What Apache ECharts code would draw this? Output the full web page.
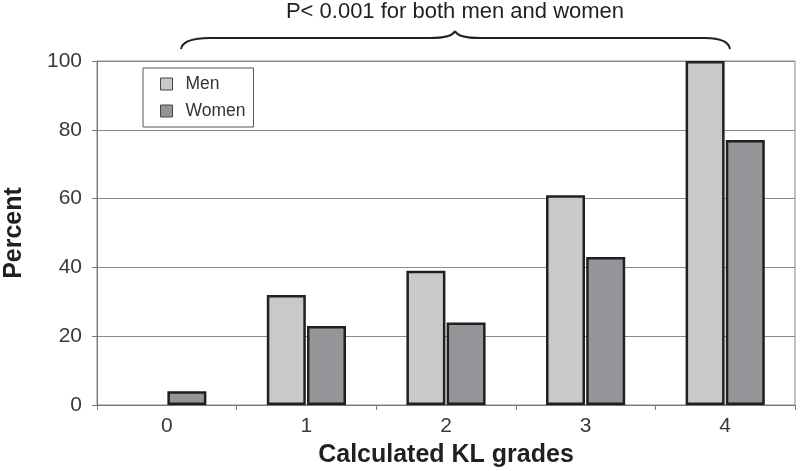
<!DOCTYPE html>
<html>
<head>
<meta charset="utf-8">
<script src="https://cdn.jsdelivr.net/npm/echarts@6/dist/echarts.min.js"></script>
<style>html,body{margin:0;padding:0;background:#fff;}#c{width:800px;height:471px;}</style>
</head>
<body>
<div id="c"></div>
<script>
const categories = ['0', '1', '2', '3', '4'];
const menValues = [null, 32, 39, 61, 100];
const womenValues = [4, 23, 24, 43, 77];
const yTicks = [0, 20, 40, 60, 80, 100];
const annotationText = 'P< 0.001 for both men and women';

const chart = echarts.init(document.getElementById('c'));
const FONT = '"Liberation Sans", Arial, sans-serif';
const braceStyle = { fill: 'none', stroke: '#231f20', lineWidth: 2 };
const option = {
  animation: false,
  backgroundColor: '#fff',
  textStyle: { fontFamily: FONT },
  grid: { left: 97, right: 5, top: 61, bottom: 66, show: true, borderColor: '#8a8a8a', borderWidth: 1,
          containLabel: false, outerBoundsMode: 'none' },
  legend: {
    orient: 'vertical', left: 143, top: 68,
    backgroundColor: '#fff',
    borderColor: '#555', borderWidth: 1,
    padding: [7, 8, 7, 17],
    itemGap: 9, itemWidth: 12, itemHeight: 12, icon: 'rect',
    itemStyle: { borderColor: '#444', borderWidth: 1 },
    textStyle: { fontSize: 17.5, color: '#333', fontFamily: FONT, padding: [0, 0, 0, 8] },
    data: ['Men', 'Women']
  },
  xAxis: {
    type: 'category', data: categories,
    name: 'Calculated KL grades', nameLocation: 'middle', nameGap: 38,
    nameTextStyle: { fontSize: 25, fontWeight: 'bold', color: '#231f20', fontFamily: FONT },
    axisLine: { lineStyle: { color: '#777', width: 1 } },
    axisTick: { show: true, length: 5, lineStyle: { color: '#777' } },
    axisLabel: { fontSize: 21, color: '#3a3a3a', margin: 11 }
  },
  yAxis: {
    type: 'value', min: 0, max: 100, interval: 20,
    name: 'Percent', nameLocation: 'middle', nameGap: 70, nameRotate: 90,
    nameTextStyle: { fontSize: 25, fontWeight: 'bold', color: '#231f20', fontFamily: FONT },
    axisLine: { show: true, lineStyle: { color: '#777', width: 1 } },
    axisTick: { show: true, length: 5, lineStyle: { color: '#777' } },
    axisLabel: { fontSize: 21, color: '#3a3a3a', margin: 15, formatter: v => yTicks.includes(v) ? String(v) : '' },
    splitLine: { lineStyle: { color: '#8a8a8a', width: 1 } }
  },
  series: [
    { name: 'Men', type: 'bar', data: menValues, barWidth: 39, barGap: '3%',
      itemStyle: { color: '#c8c9cb', borderColor: '#231f20', borderWidth: 2.5 } },
    { name: 'Women', type: 'bar', data: womenValues, barWidth: 39,
      itemStyle: { color: '#939598', borderColor: '#231f20', borderWidth: 2.5 } }
  ],
  graphic: [
    { type: 'text', x: 455, y: 12, style: { text: annotationText, font: '22px ' + FONT, fill: '#231f20', textAlign: 'center', textVerticalAlign: 'middle' } },
    { type: 'bezierCurve', shape: { x1: 181, y1: 49, cpx1: 183, cpy1: 38, x2: 210, y2: 38 }, style: braceStyle },
    { type: 'line', shape: { x1: 210, y1: 38, x2: 430, y2: 38 }, style: braceStyle },
    { type: 'bezierCurve', shape: { x1: 430, y1: 38, cpx1: 452, cpy1: 38, x2: 455, y2: 31 }, style: braceStyle },
    { type: 'bezierCurve', shape: { x1: 455, y1: 31, cpx1: 458, cpy1: 38, x2: 480, y2: 38 }, style: braceStyle },
    { type: 'line', shape: { x1: 480, y1: 38, x2: 705, y2: 38 }, style: braceStyle },
    { type: 'bezierCurve', shape: { x1: 705, y1: 38, cpx1: 728, cpy1: 38, x2: 730, y2: 49 }, style: braceStyle }
  ]
};
chart.setOption(option);
</script>
</body>
</html>
